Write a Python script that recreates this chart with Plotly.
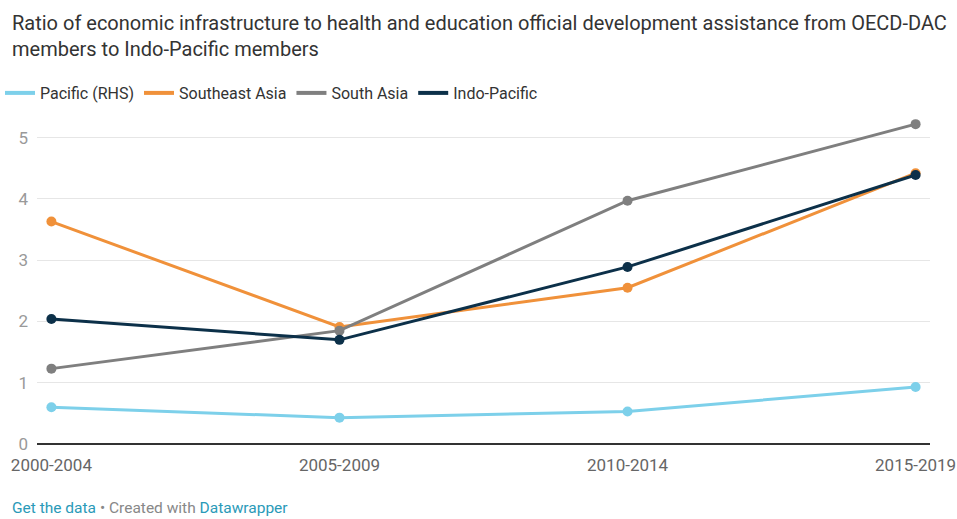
import plotly.graph_objects as go

periods = ["2000-2004", "2005-2009", "2010-2014", "2015-2019"]
pacific = [0.60, 0.43, 0.53, 0.93]
southeast_asia = [3.63, 1.91, 2.55, 4.42]
south_asia = [1.23, 1.85, 3.97, 5.22]
indo_pacific = [2.04, 1.70, 2.89, 4.39]

series = [
    ("Pacific (RHS)", pacific, "#7dd0ea"),
    ("Southeast Asia", southeast_asia, "#f0913a"),
    ("South Asia", south_asia, "#7f7f7f"),
    ("Indo-Pacific", indo_pacific, "#0c3049"),
]

FONT = "Roboto"
fig = go.Figure()
for name, vals, col in series:
    fig.add_trace(go.Scatter(
        x=list(range(len(periods))), y=vals, mode="lines+markers", name=name,
        line=dict(color=col, width=3), marker=dict(color=col, size=10),
        showlegend=False, hoverinfo="skip"))
for name, vals, col in series:
    fig.add_trace(go.Scatter(
        x=[None], y=[None], mode="lines", name=name,
        line=dict(color=col, width=4), showlegend=True))

fig.update_layout(
    width=957, height=519,
    margin=dict(l=37, r=27, t=107, b=75, autoexpand=False),
    paper_bgcolor="white", plot_bgcolor="white",
    font=dict(family=FONT, color="#333333"),
    legend=dict(orientation="h", xref="container", yref="container",
                x=0.0, xanchor="left", y=1 - 93 / 519, yanchor="middle",
                font=dict(family=FONT, size=16, color="#333333"),
                itemwidth=30, tracegroupgap=0, bgcolor="rgba(0,0,0,0)"),
    xaxis=dict(
        range=[-0.05, 3.05], tickmode="array",
        tickvals=list(range(len(periods))), ticktext=periods,
        showgrid=False, zeroline=False, showline=False, automargin=False,
        tickfont=dict(family=FONT, size=17, color="#666666"),
        ticks="", ticklabelstandoff=9),
    yaxis=dict(
        range=[0, 5.5], tickvals=[0, 1, 2, 3, 4, 5],
        showgrid=True, gridcolor="#e6e6e6", gridwidth=1,
        zeroline=True, zerolinecolor="#333333", zerolinewidth=1.5,
        showline=False, ticks="", automargin=False,
        tickfont=dict(family=FONT, size=17, color="#999999"),
        ticklabelstandoff=8),
)

fig.add_annotation(
    xref="paper", yref="paper", x=-0.0302, y=1.29, xanchor="left", yanchor="top",
    align="left", showarrow=False,
    text="Ratio of economic infrastructure to health and education official development assistance from OECD-DAC<br>members to Indo-Pacific members",
    font=dict(family=FONT, size=20, color="#333333"))

fig.add_annotation(
    xref="paper", yref="paper", x=-0.0302, y=-0.156, xanchor="left", yanchor="top",
    showarrow=False,
    text="<span style='color:#2a9ab8'>Get the data</span> • Created with <span style='color:#2a9ab8'>Datawrapper</span>",
    font=dict(family=FONT, size=15.5, color="#888888"))

fig.write_html("out.html")
